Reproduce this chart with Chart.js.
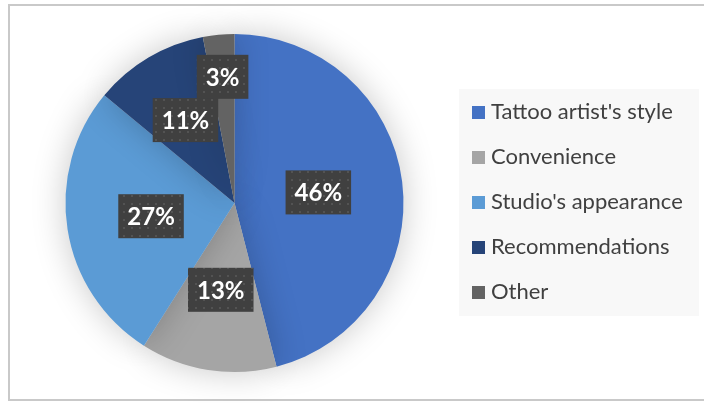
<!DOCTYPE html>
<html>
<head>
<meta charset="utf-8">
<script src="https://cdn.jsdelivr.net/npm/chart.js@4"></script>
<style>
  body { margin: 0; background: #fff; }
  #frame {
    position: absolute; left: 8px; top: 4px; width: 720px; height: 393px;
    border: 2px solid #c9c9c9;
  }
  #wrap { position: absolute; left: 0; top: 0; width: 704px; height: 403px; }
</style>
</head>
<body>
<div id="frame"></div>
<div id="wrap"><canvas id="chart-area" width="704" height="403"></canvas></div>
<script>
const categories = ["Tattoo artist's style", "Convenience", "Studio's appearance", "Recommendations", "Other"];
const shares = [46, 13, 27, 11, 3];
const sliceColors = ["#4472C4", "#A5A5A5", "#5B9BD5", "#264478", "#636363"];
// how far out (fraction of radius) each label box sits
const labelDist = [0.5, 0.52, 0.5, 0.57, 0.75];

const FONT = "Lato, 'Open Sans', sans-serif";

// dark dotted fill for the label boxes
function makePattern(ctx) {
  const p = document.createElement("canvas");
  p.width = 8; p.height = 8;
  const pc = p.getContext("2d");
  pc.fillStyle = "#404040";
  pc.fillRect(0, 0, 8, 8);
  pc.fillStyle = "#535353";
  pc.fillRect(3, 3, 2, 2);
  return ctx.createPattern(p, "repeat");
}

const pieShadow = {
  id: "pieShadow",
  beforeDatasetsDraw(chart) {
    const ctx = chart.ctx;
    ctx.save();
    ctx.shadowColor = "rgba(0,0,0,0.22)";
    ctx.shadowBlur = 34;
  },
  afterDatasetsDraw(chart) {
    chart.ctx.restore();
  },
};

const boxLabels = {
  id: "boxLabels",
  afterDatasetsDraw(chart) {
    const ctx = chart.ctx;
    const meta = chart.getDatasetMeta(0);
    const pattern = makePattern(ctx);
    ctx.save();
    ctx.font = "bold 24px " + FONT;
    ctx.textAlign = "center";
    ctx.textBaseline = "middle";
    meta.data.forEach((arc, i) => {
      const mid = (arc.startAngle + arc.endAngle) / 2;
      const d = arc.outerRadius * labelDist[i];
      const x = arc.x + Math.cos(mid) * d;
      const y = arc.y + Math.sin(mid) * d;
      const txt = shares[i] + "%";
      const w = ctx.measureText(txt).width + 18;
      const h = 44;
      ctx.fillStyle = pattern;
      ctx.fillRect(x - w / 2, y - h / 2, w, h);
      ctx.fillStyle = "#ffffff";
      ctx.fillText(txt, x, y + 1);
    });
    ctx.restore();
  },
};

const sideLegend = {
  id: "sideLegend",
  afterDraw(chart) {
    const ctx = chart.ctx;
    ctx.save();
    ctx.fillStyle = "#f8f8f8";
    ctx.fillRect(459, 89, 240, 227);
    ctx.font = "22px " + FONT;
    ctx.textAlign = "left";
    ctx.textBaseline = "middle";
    chart.data.labels.forEach((lab, i) => {
      const y = 112 + i * 45;
      ctx.fillStyle = sliceColors[i];
      ctx.fillRect(472, y - 6, 13, 13);
      ctx.fillStyle = "#404040";
      ctx.fillText(lab, 491, y);
    });
    ctx.restore();
  },
};

new Chart("chart-area", {
  type: "pie",
  data: {
    labels: categories,
    datasets: [{
      data: shares,
      backgroundColor: sliceColors,
      borderWidth: 0,
    }],
  },
  options: {
    responsive: false,
    animation: false,
    layout: { padding: { left: 65.5, right: 300.5, top: 34, bottom: 31 } },
    plugins: {
      legend: { display: false },
      tooltip: { enabled: false },
    },
  },
  plugins: [pieShadow, boxLabels, sideLegend],
});
</script>
</body>
</html>
